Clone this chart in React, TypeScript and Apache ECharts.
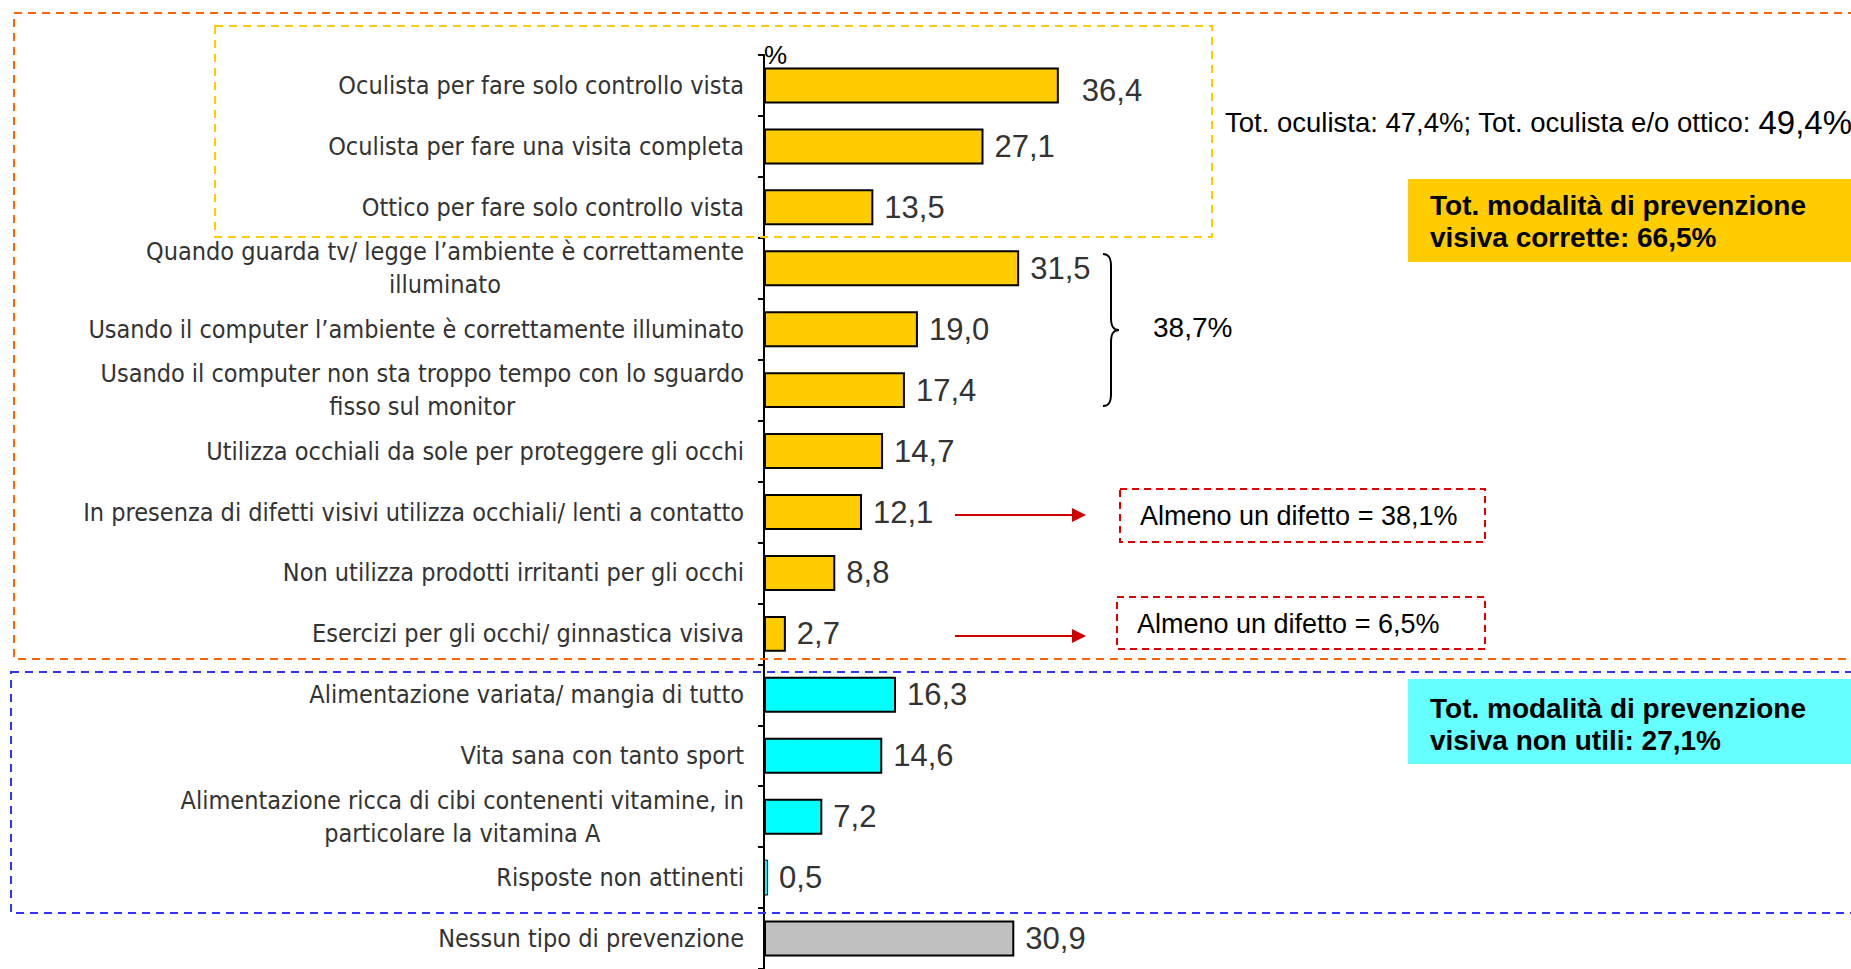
import React, { useEffect, useRef } from "react";
import * as echarts from "echarts";

const categories = [
  "Oculista per fare solo controllo vista",
  "Oculista per fare una visita completa",
  "Ottico per fare solo controllo vista",
  "Quando guarda tv/ legge l’ambiente è correttamente\nilluminato",
  "Usando il computer l’ambiente è correttamente illuminato",
  "Usando il computer non sta troppo tempo con lo sguardo\nfisso sul monitor",
  "Utilizza occhiali da sole per proteggere gli occhi",
  "In presenza di difetti visivi utilizza occhiali/ lenti a contatto",
  "Non utilizza prodotti irritanti per gli occhi",
  "Esercizi per gli occhi/ ginnastica visiva",
  "Alimentazione variata/ mangia di tutto",
  "Vita sana con tanto sport",
  "Alimentazione ricca di cibi contenenti vitamine, in\nparticolare la vitamina A",
  "Risposte non attinenti",
  "Nessun tipo di prevenzione",
];

const values = [36.4, 27.1, 13.5, 31.5, 19.0, 17.4, 14.7, 12.1, 8.8, 2.7, 16.3, 14.6, 7.2, 0.5, 30.9];

const groups = [
  "corrette", "corrette", "corrette", "corrette", "corrette",
  "corrette", "corrette", "corrette", "corrette", "corrette",
  "nonUtili", "nonUtili", "nonUtili", "nonUtili",
  "nessuna",
];

const groupColors: Record<string, string> = {
  corrette: "#FFCC00",
  nonUtili: "#00FFFF",
  nessuna: "#C0C0C0",
};

const totOculistaText = "Tot. oculista: 47,4%; Tot. oculista e/o ottico: ";
const totOculistaValue = "49,4%";
const braceText = "38,7%";
const difetto1 = "Almeno un difetto = 38,1%";
const difetto2 = "Almeno un difetto = 6,5%";
const boxCorrette = "Tot. modalità di prevenzione\nvisiva corrette: 66,5%";
const boxNonUtili = "Tot. modalità di prevenzione\nvisiva non utili: 27,1%";

const NARROW = "'Liberation Sans Narrow', 'DejaVu Sans Condensed', 'Arial Narrow', 'Liberation Sans', sans-serif";
const SANS = "'Liberation Sans', Arial, sans-serif";

export default function App() {
  const ref = useRef<HTMLDivElement>(null);

  useEffect(() => {
    if (!ref.current) return;
    const braceD = "M0,0 C6,0 8,4 8,12 L8,64 C8,72 10,76 16,76 C10,76 8,80 8,88 L8,140 C8,148 6,152 0,152";
    try {
      echarts.graphic.registerShape("brace", echarts.graphic.extendPath(braceD, {}) as any);
    } catch (e) {}
    const chart = echarts.init(ref.current, undefined, { renderer: "svg" });

    const dashed = (x: number, y: number, w: number, h: number, color: string, dash: number[]) => ({
      type: "rect",
      shape: { x, y, width: w, height: h },
      style: { fill: "none", stroke: color, lineWidth: 2, lineDash: dash },
      silent: true,
      z: 10,
    });

    const arrow = (x1: number, x2: number, y: number) => ({
      type: "group",
      z: 10,
      children: [
        { type: "line", shape: { x1, y1: y, x2: x2 - 12, y2: y }, style: { stroke: "#CC0000", lineWidth: 2 } },
        { type: "polygon", shape: { points: [[x2 - 14, y - 7], [x2, y], [x2 - 14, y + 7]] }, style: { fill: "#CC0000" } },
      ],
    });

    const option: any = {
      animation: false,
      backgroundColor: "#ffffff",
      grid: { left: 764, top: 55, width: 810, height: 914 },
      xAxis: {
        type: "value",
        min: 0,
        max: 100,
        show: false,
      },
      yAxis: {
        type: "category",
        inverse: true,
        data: categories,
        name: "%",
        nameLocation: "start",
        nameGap: 0,
        nameTextStyle: {
          fontFamily: SANS,
          fontSize: 26,
          color: "#000",
          align: "left",
          verticalAlign: "middle",
          padding: [0, 0, 4, 0],
        },
        axisLine: { show: true, lineStyle: { color: "#000", width: 2 } },
        axisTick: { show: true, length: 6, lineStyle: { color: "#000", width: 2 } },
        axisLabel: {
          margin: 20,
          fontFamily: NARROW,
          fontSize: 25,
          color: "#333",
          lineHeight: 33,
          formatter: (v: string) => v.split("\n").map((l) => `{c|${l}}`).join("\n"),
          rich: {
            c: { align: "center", fontFamily: NARROW, fontSize: 25, color: "#333", lineHeight: 33 },
          },
        },
        splitLine: { show: false },
      },
      series: [
        {
          type: "bar",
          barWidth: "59%",
          data: values.map((v, i) => ({
            value: v,
            itemStyle: v < 1
              ? { color: groupColors[groups[i]], borderWidth: 1 }
              : { color: groupColors[groups[i]] },
            label: i === 0 ? { distance: 23, offset: [0, 5] } : undefined,
          })),
          itemStyle: { borderColor: "#000", borderWidth: 2 },
          label: {
            show: true,
            position: "right",
            distance: 11,
            fontFamily: SANS,
            fontSize: 31,
            color: "#333",
            formatter: (p: any) => Number(p.value).toFixed(1).replace(".", ","),
          },
        },
      ],
      graphic: [
        dashed(14, 13, 1860, 646, "#FF6600", [8, 6]),
        dashed(215, 26, 997, 211, "#FFCC00", [8, 6]),
        dashed(11, 672, 1860, 241, "#3333FF", [8, 6]),
        dashed(1120, 489, 365, 53, "#DD0000", [7, 5]),
        dashed(1117, 597, 368, 52, "#DD0000", [7, 5]),
        arrow(955, 1086, 515),
        arrow(955, 1086, 636),
        {
          type: "text",
          x: 1140,
          y: 516,
          z: 11,
          style: { text: difetto1, fontFamily: SANS, fontSize: 27, fill: "#000", verticalAlign: "middle" },
        },
        {
          type: "text",
          x: 1137,
          y: 624,
          z: 11,
          style: { text: difetto2, fontFamily: SANS, fontSize: 27, fill: "#000", verticalAlign: "middle" },
        },
        {
          type: "text",
          x: 1225,
          y: 122,
          z: 11,
          style: {
            text: `{a|${totOculistaText}}{b|${totOculistaValue}}`,
            verticalAlign: "middle",
            rich: {
              a: { fontFamily: SANS, fontSize: 27.5, fill: "#000" },
              b: { fontFamily: SANS, fontSize: 33, fill: "#000" },
            },
          },
        },
        {
          type: "rect",
          z: 5,
          shape: { x: 1408, y: 179, width: 460, height: 83 },
          style: { fill: "#FFCC00" },
        },
        {
          type: "text",
          x: 1430,
          y: 221,
          z: 11,
          style: {
            text: boxCorrette,
            fontFamily: SANS,
            fontWeight: "bold",
            fontSize: 28,
            lineHeight: 32,
            fill: "#000",
            verticalAlign: "middle",
          },
        },
        {
          type: "rect",
          z: 5,
          shape: { x: 1408, y: 679, width: 460, height: 85 },
          style: { fill: "#66FFFF" },
        },
        {
          type: "text",
          x: 1430,
          y: 724,
          z: 11,
          style: {
            text: boxNonUtili,
            fontFamily: SANS,
            fontWeight: "bold",
            fontSize: 28,
            lineHeight: 32,
            fill: "#000",
            verticalAlign: "middle",
          },
        },
        {
          type: "brace",
          x: 1103,
          y: 254,
          z: 11,
          style: { fill: "none", stroke: "#000", lineWidth: 2 },
        },
        {
          type: "text",
          x: 1153,
          y: 327,
          z: 11,
          style: { text: braceText, fontFamily: SANS, fontSize: 28, fill: "#000", verticalAlign: "middle" },
        },
      ],
    };

    chart.setOption(option);
    return () => chart.dispose();
  }, []);

  return (
    <div
      ref={ref}
      style={{ position: "fixed", left: 0, top: 0, width: 1851, height: 969 }}
    />
  );
}
